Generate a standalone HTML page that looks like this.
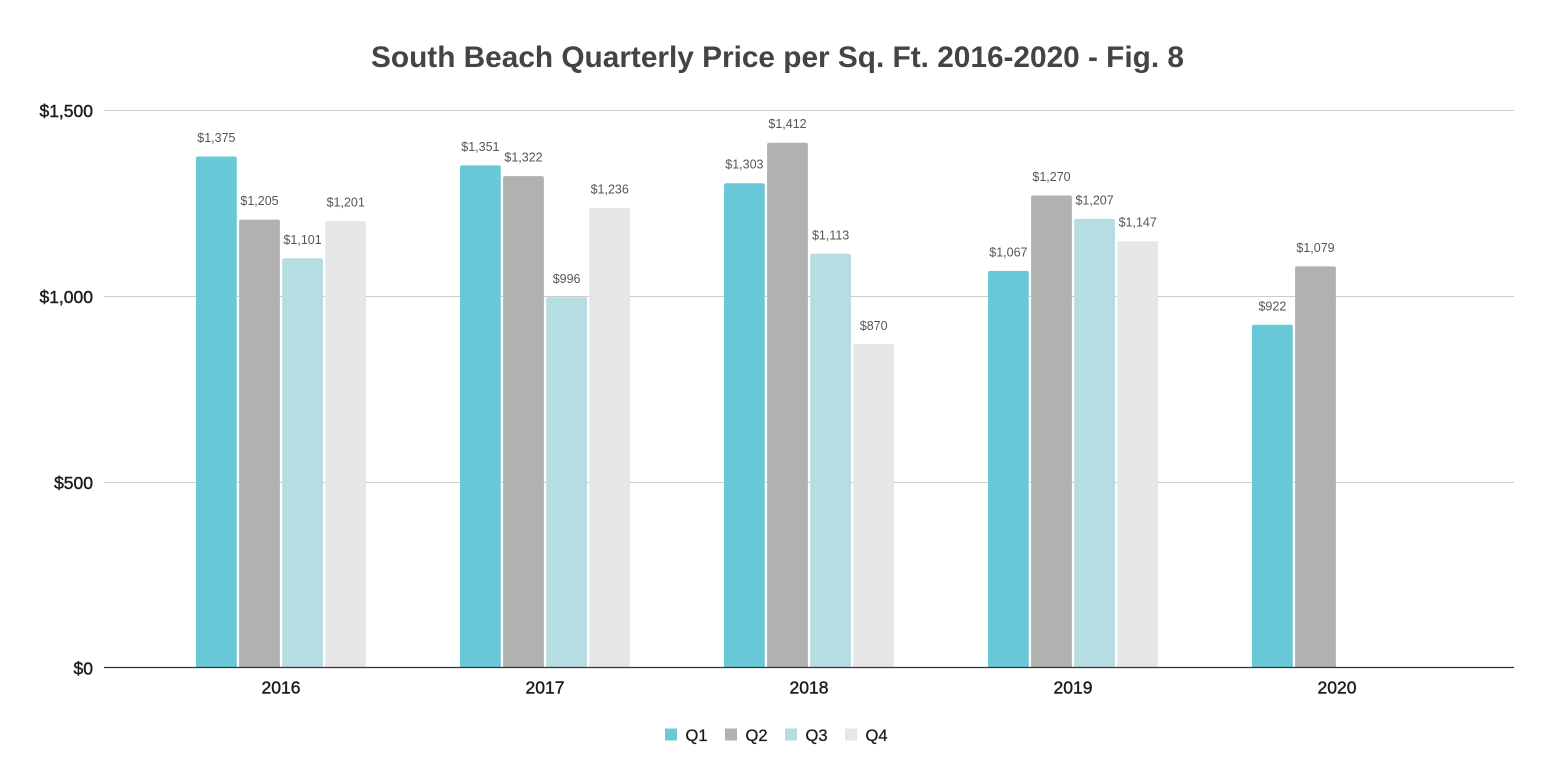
<!DOCTYPE html>
<html>
<head>
<meta charset="utf-8">
<style>
  html, body { margin: 0; padding: 0; background: #ffffff; }
  svg { display: block; font-family: "Liberation Sans", Arial, sans-serif; }
</style>
</head>
<body>
<svg width="1554" height="784" viewBox="0 0 1554 784" xmlns="http://www.w3.org/2000/svg">
  <defs>
    <clipPath id="plot"><rect x="0" y="0" width="1554" height="667"/></clipPath>
  </defs>
  <rect width="1554" height="784" fill="#ffffff"/>

  <!-- Title -->
  <text x="777.5" y="67" text-anchor="middle" font-size="30" font-weight="bold" fill="#444444" textLength="813" lengthAdjust="spacingAndGlyphs">South Beach Quarterly Price per Sq. Ft. 2016-2020 - Fig. 8</text>

  <!-- Gridlines -->
  <g stroke="#cccccc" stroke-width="1">
    <line x1="104" y1="110.5" x2="1514" y2="110.5"/>
    <line x1="104" y1="296.5" x2="1514" y2="296.5"/>
    <line x1="104" y1="482.5" x2="1514" y2="482.5"/>
  </g>

  <!-- Y labels -->
  <g font-size="17.5" fill="#1a1a1a" stroke="#1a1a1a" stroke-width="0.4" text-anchor="end">
    <text x="93" y="117">$1,500</text>
    <text x="93" y="303">$1,000</text>
    <text x="93" y="489">$500</text>
    <text x="93" y="674.5">$0</text>
  </g>

  <!-- Bars -->
  <g clip-path="url(#plot)">
    <!-- 2016 -->
    <rect x="196" y="156.5" width="40.8" height="515" rx="2" fill="#69c9d9"/>
    <rect x="239.1" y="219.6" width="40.8" height="455" rx="2" fill="#b0b1b0"/>
    <rect x="282.2" y="258.3" width="40.8" height="415" rx="2" fill="#b6dee2"/>
    <rect x="325.3" y="221.1" width="40.8" height="455" rx="2" fill="#e6e6e7"/>
    <!-- 2017 -->
    <rect x="460" y="165.4" width="40.8" height="505" rx="2" fill="#69c9d9"/>
    <rect x="503.1" y="176.1" width="40.8" height="495" rx="2" fill="#b0b1b0"/>
    <rect x="546.2" y="297.3" width="40.8" height="375" rx="2" fill="#b6dee2"/>
    <rect x="589.3" y="208.1" width="40.8" height="465" rx="2" fill="#e6e6e7"/>
    <!-- 2018 -->
    <rect x="724" y="183.2" width="40.8" height="490" rx="2" fill="#69c9d9"/>
    <rect x="767.1" y="142.7" width="40.8" height="530" rx="2" fill="#b0b1b0"/>
    <rect x="810.2" y="253.8" width="40.8" height="420" rx="2" fill="#b6dee2"/>
    <rect x="853.3" y="344.1" width="40.8" height="330" rx="2" fill="#e6e6e7"/>
    <!-- 2019 -->
    <rect x="988" y="270.9" width="40.8" height="400" rx="2" fill="#69c9d9"/>
    <rect x="1031.1" y="195.5" width="40.8" height="475" rx="2" fill="#b0b1b0"/>
    <rect x="1074.2" y="218.9" width="40.8" height="455" rx="2" fill="#b6dee2"/>
    <rect x="1117.3" y="241.2" width="40.8" height="430" rx="2" fill="#e6e6e7"/>
    <!-- 2020 -->
    <rect x="1252" y="324.8" width="40.8" height="350" rx="2" fill="#69c9d9"/>
    <rect x="1295.1" y="266.4" width="40.8" height="405" rx="2" fill="#b0b1b0"/>
  </g>

  <!-- Baseline -->
  <line x1="104" y1="667.5" x2="1514" y2="667.5" stroke="#333333" stroke-width="1.2"/>

  <!-- Data labels -->
  <g font-size="12.5" fill="#555555" text-anchor="middle">
    <text x="216.4" y="142">$1,375</text>
    <text x="259.5" y="205.2">$1,205</text>
    <text x="302.6" y="243.8">$1,101</text>
    <text x="345.7" y="206.6">$1,201</text>

    <text x="480.4" y="151">$1,351</text>
    <text x="523.5" y="161.6">$1,322</text>
    <text x="566.6" y="282.8">$996</text>
    <text x="609.7" y="193.6">$1,236</text>

    <text x="744.4" y="168.7">$1,303</text>
    <text x="787.5" y="128.2">$1,412</text>
    <text x="830.6" y="239.3">$1,113</text>
    <text x="873.7" y="329.8">$870</text>

    <text x="1008.4" y="256.4">$1,067</text>
    <text x="1051.5" y="181">$1,270</text>
    <text x="1094.6" y="204.4">$1,207</text>
    <text x="1137.7" y="226.7">$1,147</text>

    <text x="1272.4" y="310.3">$922</text>
    <text x="1315.5" y="251.9">$1,079</text>
  </g>

  <!-- X labels -->
  <g font-size="17.5" fill="#1a1a1a" stroke="#1a1a1a" stroke-width="0.4" text-anchor="middle">
    <text x="281" y="693.5">2016</text>
    <text x="545" y="693.5">2017</text>
    <text x="809" y="693.5">2018</text>
    <text x="1073" y="693.5">2019</text>
    <text x="1337" y="693.5">2020</text>
  </g>

  <!-- Legend -->
  <g>
    <rect x="665" y="728.5" width="12" height="12" fill="#69c9d9"/>
    <rect x="725" y="728.5" width="12" height="12" fill="#b0b1b0"/>
    <rect x="785" y="728.5" width="12" height="12" fill="#b6dee2"/>
    <rect x="845" y="728.5" width="12" height="12" fill="#e6e6e7"/>
  </g>
  <g font-size="16.5" fill="#1a1a1a" stroke="#1a1a1a" stroke-width="0.3">
    <text x="685.5" y="741">Q1</text>
    <text x="745.5" y="741">Q2</text>
    <text x="805.5" y="741">Q3</text>
    <text x="865.5" y="741">Q4</text>
  </g>
</svg>
</body>
</html>
